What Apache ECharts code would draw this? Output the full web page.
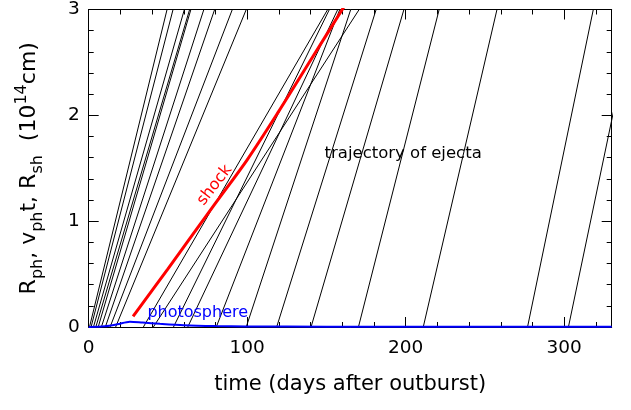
<!DOCTYPE html>
<html>
<head>
<meta charset="utf-8">
<script src="https://cdn.jsdelivr.net/npm/echarts@6/dist/echarts.min.js"></script>
<style>
  html, body { margin: 0; padding: 0; background: #fff; }
  #chart { width: 631px; height: 410px; }
</style>
</head>
<body>
<div id="chart"></div>
<script>
// Ejecta launch days (days after outburst) and speeds (10^14 cm per day)
const launchDay = [0.5, 1.5, 3, 4.5, 6, 8, 10.5, 13.5, 17,
                   34.5, 40.8, 53.5, 62.5, 80.5,
                   99.4, 118.6, 140.3, 170.2, 211.1, 276.9, 302.7];
const ejectaSpeed = [0.0613, 0.0580, 0.0523, 0.0507, 0.0513, 0.0464, 0.0435, 0.0389, 0.0364,
                     0.0258, 0.0231, 0.0305, 0.0317, 0.0385,
                     0.0455, 0.0478, 0.0512, 0.0589, 0.0645, 0.0723, 0.0716];

// Shock radius R_sh (10^14 cm) versus time
const shockDay = [28, 50, 80, 100, 120, 140, 160, 165];
const shockR   = [0.10, 0.55, 1.17, 1.58, 2.04, 2.52, 3.0, 3.12];

// Photospheric radius R_ph (10^14 cm) versus time
const photDay = [0, 10, 18, 26, 34, 45, 60, 80, 100, 150, 200, 250, 300, 330];
const photR   = [0, 0.006, 0.025, 0.05, 0.042, 0.03, 0.017, 0.009, 0.005, 0.003, 0.002, 0.002, 0.002, 0.002];

const xTicks = [0, 100, 200, 300];
const yTicks = [0, 1, 2, 3];

const FONT = 'DejaVu Sans';
const RMAX = 3;
const X_RANGE = { min: 0, max: 330, interval: 100 };
const Y_RANGE = { min: 0, max: 3, interval: 1 };

const chart = echarts.init(document.getElementById('chart'), null, { renderer: 'canvas' });

const series = [];
launchDay.forEach((t0, i) => {
  series.push({
    type: 'line',
    data: [[t0, 0], [t0 + RMAX / ejectaSpeed[i], RMAX]],
    symbol: 'none',
    lineStyle: { color: '#000', width: 1 },
    silent: true,
    animation: false,
    z: 2
  });
});
series.push({
  type: 'line',
  data: shockDay.map((t, i) => [t, shockR[i]]),
  symbol: 'none',
  smooth: 0.3,
  lineStyle: { color: '#ff0000', width: 3 },
  animation: false,
  z: 4
});
series.push({
  type: 'line',
  data: photDay.map((t, i) => [t, photR[i]]),
  symbol: 'none',
  smooth: 0.3,
  lineStyle: { color: '#0000ff', width: 2 },
  animation: false,
  z: 5
});

// Frame side: axis line only
function frameSide(range, position) {
  return Object.assign({
    type: 'value', position: position,
    axisLine: { show: true, onZero: false, lineStyle: { color: '#000', width: 1 } },
    axisTick: { show: false },
    minorTick: { show: false },
    axisLabel: { show: false },
    splitLine: { show: false }
  }, range);
}
// Tick rows drawn from an axis shifted into the frame, so marks point inward
function tickRow(range, position, len, minor) {
  return Object.assign({
    type: 'value', position: position, offset: -len,
    axisLine: { show: false, onZero: false },
    axisTick: { show: !minor, length: len, lineStyle: { color: '#000', width: 1 } },
    minorTick: { show: minor, splitNumber: 5, length: len, lineStyle: { color: '#000', width: 1 } },
    axisLabel: { show: false },
    splitLine: { show: false }
  }, range);
}

const xMain = frameSide(X_RANGE, 'bottom');
Object.assign(xMain, {
  name: 'time (days after outburst)', nameLocation: 'middle', nameGap: 47,
  nameTextStyle: { fontFamily: FONT, fontSize: 21, color: '#000' },
  axisLabel: {
    show: true, fontFamily: FONT, fontSize: 18.5, color: '#000', margin: 12,
    formatter: v => (xTicks.includes(v) ? String(v) : '')
  }
});

const yMain = frameSide(Y_RANGE, 'left');
Object.assign(yMain, {
  name: '{m|R}{s|ph}{m|, v}{s|ph}{m|t, R}{s|sh}{m|  (10}{p|14}{m|cm)}',
  nameLocation: 'middle', nameGap: 43, nameRotate: 90,
  nameTextStyle: {
    rich: {
      m: { fontFamily: FONT, fontSize: 22, color: '#000', lineHeight: 32, verticalAlign: 'middle' },
      s: { fontFamily: FONT, fontSize: 16, color: '#000', lineHeight: 32, verticalAlign: 'bottom' },
      p: { fontFamily: FONT, fontSize: 16, color: '#000', lineHeight: 32, verticalAlign: 'top' }
    }
  },
  axisLabel: {
    show: true, fontFamily: FONT, fontSize: 18.5, color: '#000', margin: 9,
    formatter: v => (yTicks.includes(v) ? String(v) : '')
  }
});

const option = {
  animation: false,
  backgroundColor: '#fff',
  grid: { left: 88.7, right: 19.3, top: 9.5, bottom: 83, containLabel: false },
  xAxis: [
    xMain,
    frameSide(X_RANGE, 'top'),
    tickRow(X_RANGE, 'bottom', 10, false),
    tickRow(X_RANGE, 'bottom', 5, true),
    tickRow(X_RANGE, 'top', 10, false),
    tickRow(X_RANGE, 'top', 5, true)
  ],
  yAxis: [
    yMain,
    frameSide(Y_RANGE, 'right'),
    tickRow(Y_RANGE, 'left', 10, false),
    tickRow(Y_RANGE, 'left', 5, true),
    tickRow(Y_RANGE, 'right', 10, false),
    tickRow(Y_RANGE, 'right', 5, true)
  ],
  series: series
};

chart.setOption(option);

// Curve labels placed in data coordinates
function at(t, r) { return chart.convertToPixel({ xAxisIndex: 0, yAxisIndex: 0 }, [t, r]); }
const shockPos = at(79.5, 1.34);
const photPos = at(68.8, 0.13);
const trajPos = at(198.4, 1.635);
chart.setOption({
  graphic: [
    {
      type: 'text', x: shockPos[0], y: shockPos[1], rotation: 52 * Math.PI / 180,
      style: { text: 'shock', fill: '#ff0000', font: '16px "DejaVu Sans"', align: 'center', verticalAlign: 'middle' },
      z: 10
    },
    {
      type: 'text', x: photPos[0], y: photPos[1],
      style: { text: 'photosphere', fill: '#0000ff', font: '16px "DejaVu Sans"', align: 'center', verticalAlign: 'middle' },
      z: 10
    },
    {
      type: 'text', x: trajPos[0], y: trajPos[1],
      style: { text: 'trajectory of ejecta', fill: '#000', font: '16.5px "DejaVu Sans"', align: 'center', verticalAlign: 'middle' },
      z: 10
    }
  ]
});
</script>
</body>
</html>
